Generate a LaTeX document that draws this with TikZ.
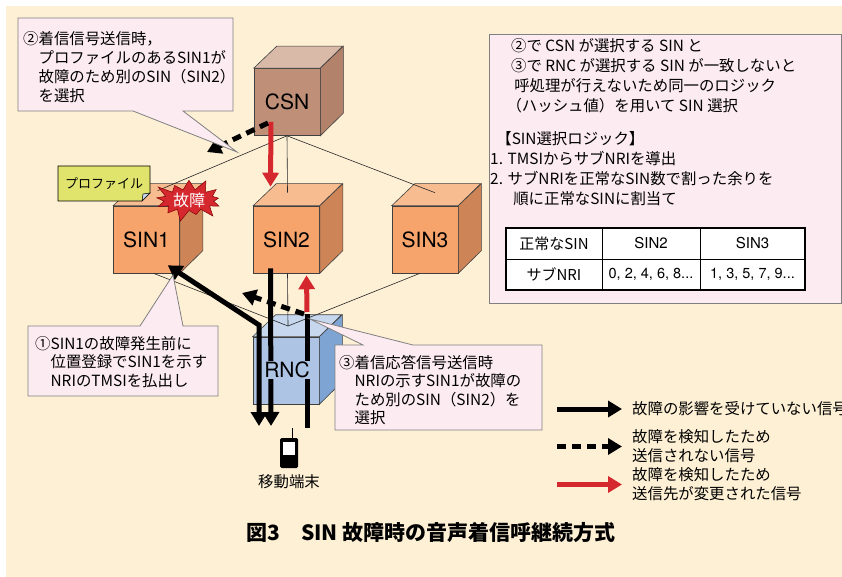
\documentclass[tikz,border=0pt]{standalone}
\usepackage{fontspec}
\setmainfont{Noto Sans CJK JP}
\newfontfamily\heros{TeX Gyre Heros}
\usetikzlibrary{arrows.meta,shapes.symbols}

\definecolor{bgcream}{HTML}{FEF0D5}
\definecolor{csnfront}{HTML}{BF8F78}
\definecolor{csntop}{HTML}{D9B9A7}
\definecolor{csnside}{HTML}{B3826A}
\definecolor{sinfront}{HTML}{F7A36C}
\definecolor{sintop}{HTML}{F8BC91}
\definecolor{sinside}{HTML}{CD8457}
\definecolor{rncfront}{HTML}{ADC4E5}
\definecolor{rnctop}{HTML}{C6D7EE}
\definecolor{rncside}{HTML}{7EA4D3}
\definecolor{bubblepink}{HTML}{FCEBF0}
\definecolor{alarmred}{HTML}{D5272E}
\definecolor{tagyellow}{HTML}{E0E46C}

\tikzset{
  >={Triangle[length=14pt,width=16pt]},
  cube/.style={draw=black!75, line width=0.6pt, minimum width=66pt, minimum height=67pt,
    inner sep=0pt, font=\heros\fontsize{21}{21}\selectfont},
  link/.style={draw=black!85, line width=0.6pt},
  bubble/.style={draw=black!50, line width=0.8pt, fill=bubblepink},
  btext/.style={anchor=north west, inner sep=0pt, align=left, font=\fontsize{15.4}{19}\selectfont},
  sig/.style={line width=5pt, ->},
  sigdash/.style={sig, dash pattern=on 9pt off 6pt},
  sigred/.style={sig, draw=alarmred, fill=alarmred},
  tcell/.style={inner sep=0pt, font=\fontsize{15}{15}\selectfont},
}

% top and side faces of a cube, drawn behind the front node
\newcommand{\cubefaces}[3]{%
  \draw[line width=0.6pt, draw=black!75, fill=#2] (#1.north west) -- ++(23,-22) -- ++(66,0) -- (#1.north east) -- cycle;
  \draw[line width=0.6pt, draw=black!75, fill=#3] (#1.north east) -- ++(23,-22) -- ++(0,67) -- (#1.south east) -- cycle;
}

\begin{document}
\begin{tikzpicture}[x=1pt, y=-1pt]
  \useasboundingbox (0,0) rectangle (842,577);
  \fill[bgcream] (6,6) rectangle (842,577);

  % ノード (立方体)
  \node[cube, fill=csnfront] (csn) at (287,102) {CSN};
  \cubefaces{csn}{csntop}{csnside}
  \node[cube, fill=sinfront] (sin1) at (146.5,239.5) {SIN1};
  \cubefaces{sin1}{sintop}{sinside}
  \node[cube, fill=sinfront] (sin2) at (286.5,239.5) {SIN2};
  \cubefaces{sin2}{sintop}{sinside}
  \node[cube, fill=sinfront] (sin3) at (425,239.5) {SIN3};
  \cubefaces{sin3}{sintop}{sinside}
  \node[cube, fill=rncfront] (rnc) at (286,370.5) {};
  \cubefaces{rnc}{rnctop}{rncside}

  % 接続線
  \coordinate (rnctop) at (288,326);
  \draw[link] (csn.south) -- ([xshift=11pt,yshift=15pt]sin1.north);
  \draw[link] (csn.south) -- ([xshift=1pt,yshift=13pt]sin2.north);
  \draw[link] (csn.south) -- ([xshift=10pt,yshift=13pt]sin3.north);
  \draw[link] ([xshift=7pt]sin1.south) -- (rnctop);
  \draw[link] ([xshift=1pt]sin2.south) -- (rnctop);
  \draw[link] ([xshift=-5pt]sin3.south) -- (rnctop);

  % プロファイル
  \draw[line width=0.6pt, fill=tagyellow] (58,166) -- (150,166) -- (150,193) -- (142,201) -- (58,201) -- cycle;
  \draw[line width=0.5pt, fill=rnctop] (150,193) -- (143,194) -- (142,201) -- cycle;
  \node[inner sep=0pt, font=\fontsize{13}{13}\selectfont] (profile) at (104,184) {プロファイル};

  % 故障マーク
  \node[starburst, starburst points=13, starburst point height=13pt, fill=alarmred, draw=red!50!black,
    line width=0.5pt, minimum width=76pt, minimum height=46pt, inner sep=0pt,
    text=white, font=\fontsize{16}{16}\selectfont] (fault) at (189,200) {故障};

  % 信号
  \coordinate (csnout) at (268,123);
  \coordinate (lost1) at (207,152);
  \coordinate (regdown) at (259,426);
  \coordinate (regbend) at (259,325);
  \coordinate (pagedown) at (271,426);
  \coordinate (ansup) at (307,428);
  \coordinate (ansturn) at (307,314);
  \coordinate (rncout) at (304,314);
  \coordinate (lost3) at (242,293);

  \draw[sigred] ([xshift=-16pt,yshift=14pt]csn.south) -- ([xshift=-16pt,yshift=19pt]sin2.north);
  \draw[sigdash] (csnout) -- (lost1);
  \draw[sig, <->] (regdown) -- (regbend) -- ([xshift=-12pt,yshift=8pt]sin1.south east);
  \draw[sig] ([xshift=-16pt,yshift=5pt]sin2.south) -- (pagedown);
  \draw[sigdash] (rncout) -- (lost3);
  \draw[line width=5pt] (ansup) -- (ansturn);
  \draw[sigred] ([yshift=2pt]ansturn) -- ([xshift=20pt,yshift=-2pt]sin2.south);
  \node[fill=rncfront, inner sep=0.5pt, font=\heros\fontsize{21}{21}\selectfont] (rnclabel) at (287,370) {RNC};

  % 移動端末
  \draw[line width=0.8pt] (292,428) -- (292,438);
  \node[fill=black, rounded corners=1.5pt, minimum width=18pt, minimum height=30pt, inner sep=0pt] (ue) at (289,453) {};
  \fill[white] (283,442) rectangle (295,455);
  \node[btext, anchor=center] (uelabel) at (289,482) {移動端末};

  % 吹き出し
  \draw[bubble] (18,18) -- (233,18) -- (233,111) -- (183,111) -- (237,152) -- (133,111) -- (18,111) -- cycle;
  \node[btext] (note2) at (23,31) {②着信信号送信時，\\\hspace{1em}プロファイルのあるSIN1が\\\hspace{1em}故障のため別のSIN（SIN2）\\\hspace{1em}を選択};

  \draw[bubble] (28,326) -- (140,326) -- (173,275) -- (183,326) -- (218,326) -- (218,396) -- (28,396) -- cycle;
  \node[btext, font=\fontsize{15.4}{18.5}\selectfont] (note1) at (35,336) {①SIN1の故障発生前に\\\hspace{1em}位置登録でSIN1を示す\\\hspace{1em}NRIのTMSIを払出し};

  \draw[bubble] (335,345) -- (363,345) -- (310,319) -- (413,345) -- (542,345) -- (542,430) -- (335,430) -- cycle;
  \node[btext, font=\fontsize{15.4}{18.5}\selectfont] (note3) at (339,355) {③着信応答信号送信時\\\hspace{1em}NRIの示すSIN1が故障の\\\hspace{1em}ため別のSIN（SIN2）を\\\hspace{1em}選択};

  % SIN選択ロジック
  \draw[bubble] (489,34) rectangle (841,303);
  \node[btext, font=\fontsize{15.4}{20}\selectfont] (rule) at (511,38) {②で CSN が選択する SIN と\\③で RNC が選択する SIN が一致しないと\\\hspace{0.2em}呼処理が行えないため同一のロジック\\\hspace{-0.3em}（ハッシュ値）を用いて SIN 選択};
  \node[btext, font=\fontsize{15.4}{20}\selectfont] (logic) at (490,131) {\hspace{0.4em}【SIN選択ロジック】\\1. TMSIからサブNRIを導出\\2. サブNRIを正常なSIN数で割った余りを\\\hspace{1.5em}順に正常なSINに割当て};

  \fill[white] (506,228) rectangle (805,290);
  \draw[line width=0.8pt] (506,259) -- (805,259) (602,228) -- (602,290) (700,228) -- (700,290);
  \draw[line width=1.6pt] (506,228) rectangle (805,290);
  \node[tcell] (t11) at (554,243.5) {正常なSIN};
  \node[tcell, font=\heros\fontsize{15}{15}\selectfont] (t12) at (651,243.5) {SIN2};
  \node[tcell, font=\heros\fontsize{15}{15}\selectfont] (t13) at (752.5,243.5) {SIN3};
  \node[tcell] (t21) at (554,274.5) {サブNRI};
  \node[tcell, font=\heros\fontsize{14.5}{15}\selectfont] (t22) at (651,274.5) {0, 2, 4, 6, 8...};
  \node[tcell, font=\heros\fontsize{14.5}{15}\selectfont] (t23) at (752.5,274.5) {1, 3, 5, 7, 9...};

  % 凡例
  \node[btext, anchor=west] (lg1) at (632,409) {故障の影響を受けていない信号};
  \node[btext, anchor=west] (lg2) at (632,446.5) {故障を検知したため\\送信されない信号};
  \node[btext, anchor=west] (lg3) at (632,484.5) {故障を検知したため\\送信先が変更された信号};
  \draw[sig] ([xshift=-75pt]lg1.west) -- ([xshift=-10pt]lg1.west);
  \draw[sigdash] ([xshift=-75pt]lg2.west) -- ([xshift=-10pt]lg2.west);
  \draw[sigred] ([xshift=-75pt]lg3.west) -- ([xshift=-10pt]lg3.west);

  % 図題
  \node[font=\bfseries\fontsize{21}{21}\selectfont] (title) at (431,533) {図3　SIN 故障時の音声着信呼継続方式};
\end{tikzpicture}
\end{document}
